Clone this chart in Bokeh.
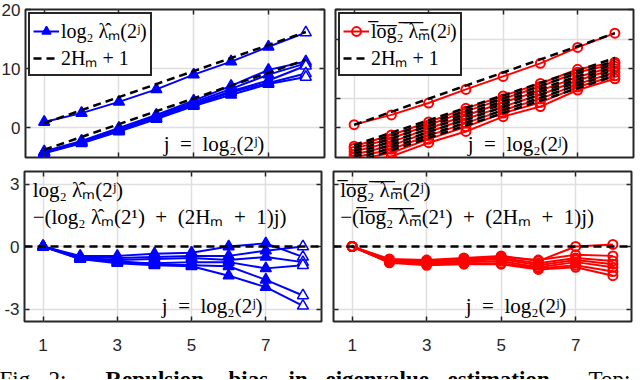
from bokeh.plotting import figure
from bokeh.models import (Range1d, FixedTicker, LinearAxis, Legend, LegendItem, Label, Grid,
                          Span, CustomLabelingPolicy)
from bokeh.layouts import column, row
from bokeh.embed import file_html
from bokeh.resources import INLINE

# ---------------- data ----------------
j = [1, 2, 3, 4, 5, 6, 7, 8]
x_ticks = [1, 3, 5, 7]
top_left_yticks = [0, 10, 20]
top_right_yticks = [0, 5, 10, 15, 20]
bottom_yticks = [-3, 0, 3]

# top-left: log2 hat-lambda_m(2^j), one upper curve and five lower curves
blue_m1 = [1.0, 2.5, 4.4, 6.5, 9.0, 11.2, 13.7, 16.1]
blue_m2 = [-4.0, -2.2, 0.0, 2.2, 4.6, 7.1, 9.8, 11.2]
blue_m3 = [-4.1, -2.3, -0.2, 2.0, 4.3, 6.6, 9.0, 10.9]
blue_m4 = [-4.2, -2.4, -0.3, 1.8, 4.0, 6.2, 8.0, 10.5]
blue_m5 = [-4.2, -2.5, -0.5, 1.6, 3.8, 6.0, 7.6, 9.2]
blue_m6 = [-4.3, -2.6, -0.6, 1.5, 3.7, 5.6, 7.4, 8.6]
blue_curves = [blue_m1, blue_m2, blue_m3, blue_m4, blue_m5, blue_m6]
# reference lines: start value at j=1 and Hurst exponent H_m (slope 2H_m+1)
blue_ref_start = [0.8, -3.7]
blue_ref_H = [0.60, 0.585]

# top-right: mean log2 lambda_m(2^j)
red_m1 = [0.55, 2.2, 4.2, 6.5, 8.7, 10.9, 13.6, 16.0]
red_m2 = [-3.1, -1.2, 1.0, 3.3, 5.4, 7.5, 9.9, 11.1]
red_m3 = [-3.5, -1.8, 0.5, 2.8, 4.9, 7.0, 9.4, 10.8]
red_m4 = [-4.0, -2.4, -0.1, 2.1, 4.3, 6.3, 8.6, 10.4]
red_m5 = [-4.5, -3.0, -0.7, 1.5, 3.6, 5.6, 8.0, 10.0]
red_m6 = [-5.0, -3.6, -1.3, 0.8, 3.0, 4.9, 7.4, 9.4]
red_m7 = [-5.5, -4.2, -1.9, 0.2, 2.5, 4.3, 6.9, 8.8]
red_m8 = [-6.0, -4.8, -2.5, -0.6, 1.9, 3.6, 6.4, 8.3]
red_curves = [red_m1, red_m2, red_m3, red_m4, red_m5, red_m6, red_m7, red_m8]
red_ref_start = [0.5, -2.9, -3.4, -3.9, -4.4, -4.9, -5.4, -5.9]
red_ref_H = [0.607, 0.55, 0.55, 0.55, 0.55, 0.55, 0.55, 0.55]

# bottom-left: residuals of log2 hat-lambda
blue_res1 = [0, -0.45, -0.45, -0.35, -0.3, 0.0, 0.15, -0.5]
blue_res2 = [0, -0.5, -0.55, -0.5, -0.45, -0.45, -0.2, 0.0]
blue_res3 = [0, -0.55, -0.65, -0.6, -0.55, -0.65, -0.5, -0.75]
blue_res4 = [0, -0.6, -0.75, -0.8, -0.75, -0.75, -1.05, -0.9]
blue_res5 = [0, -0.55, -0.7, -0.85, -0.9, -0.95, -1.6, -2.35]
blue_res6 = [0, -0.6, -0.8, -0.9, -0.95, -1.4, -1.95, -2.85]
blue_residuals = [blue_res1, blue_res2, blue_res3, blue_res4, blue_res5, blue_res6]

# bottom-right: residuals of mean log2 lambda
red_res1 = [0, -0.6, -0.65, -0.55, -0.45, -0.7, 0.0, 0.1]
red_res2 = [0, -0.65, -0.7, -0.6, -0.5, -0.65, -0.4, -0.45]
red_res3 = [0, -0.7, -0.75, -0.65, -0.55, -0.8, -0.55, -0.7]
red_res4 = [0, -0.7, -0.8, -0.7, -0.6, -0.9, -0.65, -0.85]
red_res5 = [0, -0.75, -0.85, -0.75, -0.7, -1.0, -0.75, -1.0]
red_res6 = [0, -0.75, -0.85, -0.8, -0.8, -1.05, -0.9, -1.2]
red_res7 = [0, -0.78, -0.9, -0.85, -0.85, -1.1, -1.0, -1.4]
red_residuals = [red_res1, red_res2, red_res3, red_res4, red_res5, red_res6, red_res7]

caption_words = ["Fig.", "2:", "Repulsion", "bias", "in", "eigenvalue", "estimation.", "Top:"]
caption_bold = [False, False, True, True, True, True, True, False]
caption_x = [3, 52, 109, 232, 292, 329, 451, 592]

# ---------------- style ----------------
BLUE = "#0000ff"
RED = "#ff0000"
FRAME = "#262626"
GRIDC = "#dfdfdf"
SANS = "Liberation Sans"
SERIF = "Liberation Serif"
SP = "\u2002"


def ov(s):
    return "".join(ch + "\u0305" for ch in s)


def no_labels():
    return CustomLabelingPolicy(
        code="const n = indices.size; for (let i = 0; i < n; i++) { indices.unset(i) } return indices")


def make_axis(ticks, show, standoff, overrides=None):
    ax = LinearAxis(ticker=FixedTicker(ticks=ticks))
    ax.axis_line_color = None
    ax.major_tick_in = 5
    ax.major_tick_out = 0
    ax.major_tick_line_color = FRAME
    ax.major_tick_line_width = 1.5
    ax.minor_tick_line_color = None
    ax.major_label_text_font = SANS
    ax.major_label_text_color = FRAME
    if show:
        ax.major_label_text_font_size = "17px"
        ax.major_label_standoff = standoff
        if overrides:
            ax.major_label_overrides = overrides
    else:
        ax.major_label_text_font_size = "0px"
        ax.major_label_standoff = 0
        ax.major_label_policy = no_labels()
    return ax


def make_fig(w, h, ml, mr, mt, mb, yr, yticks, show_x, show_y, overrides=None):
    p = figure(width=w, height=h, output_backend="svg", toolbar_location=None,
               x_range=Range1d(0.5, 8.5), y_range=Range1d(*yr),
               x_axis_type=None, y_axis_type=None,
               min_border_left=ml, min_border_right=mr,
               min_border_top=mt, min_border_bottom=mb)
    p.add_layout(make_axis(x_ticks, show_x, 17), "below")
    p.add_layout(make_axis(x_ticks, False, 0), "above")
    p.add_layout(make_axis(yticks, show_y, 5, overrides), "left")
    p.add_layout(make_axis(yticks, False, 0), "right")
    p.add_layout(Grid(dimension=0, ticker=FixedTicker(ticks=x_ticks),
                      grid_line_color=GRIDC, grid_line_width=1.5))
    p.add_layout(Grid(dimension=1, ticker=FixedTicker(ticks=yticks),
                      grid_line_color=GRIDC, grid_line_width=1.5))
    p.outline_line_color = FRAME
    p.outline_line_width = 2
    p.outline_line_alpha = 1
    p.background_fill_color = "white"
    p.border_fill_color = "white"
    return p


def ref_line(start, H):
    return [start + (2 * H + 1) * (k - 1) for k in j]


def draw_blue(p, curves):
    first = None
    for c in curves:
        lr = p.line(j, c, line_color=BLUE, line_width=2)
        sr = p.scatter(j[:-1], c[:-1], marker="triangle", size=11,
                       fill_color=BLUE, line_color=BLUE, line_width=1.5)
        p.scatter(j[-1:], c[-1:], marker="triangle", size=11,
                  fill_color="white", line_color=BLUE, line_width=1.5)
        if first is None:
            first = [lr, sr]
    return first


def draw_red(p, curves):
    first = None
    for c in curves:
        lr = p.line(j, c, line_color=RED, line_width=2)
        sr = p.scatter(j, c, marker="circle", size=9,
                       fill_color=None, line_color=RED, line_width=2)
        if first is None:
            first = [lr, sr]
    return first


def make_legend(items):
    lg = Legend(items=items, location="top_left")
    lg.margin = 3
    lg.padding = 3
    lg.spacing = 0
    lg.glyph_width = 26
    lg.glyph_height = 22
    lg.label_height = 22
    lg.label_standoff = 2
    lg.label_text_font = SERIF
    lg.label_text_font_size = "20px"
    lg.label_text_color = "black"
    lg.border_line_color = FRAME
    lg.border_line_width = 2
    lg.border_line_alpha = 1
    lg.background_fill_color = "white"
    lg.background_fill_alpha = 1
    return lg


def add_text(p, x, y, text):
    p.add_layout(Label(x=x, y=y, text=text, text_font=SERIF, text_font_size="21px",
                       text_color="black", text_baseline="middle"))


J_TEXT = "j" + SP + "=" + SP + "log\u2082(2\u02b2)"

# ---------------- top-left ----------------
tl = make_fig(334, 165, 29, 6, 10, 7, (-5, 20), top_left_yticks, False, True)
blue_first = draw_blue(tl, blue_curves)
dash_tl = None
for s, H in zip(blue_ref_start, blue_ref_H):
    r = tl.line(j, ref_line(s, H), line_color="black", line_width=2.5, line_dash="8 5")
    dash_tl = dash_tl or r
tl.add_layout(make_legend([
    LegendItem(label="log\u2082 \u03bb\u0302\u2098(2\u02b2)", renderers=blue_first),
    LegendItem(label="2H\u2098 + 1", renderers=[dash_tl]),
]))
add_text(tl, 4.2, -2.8, J_TEXT)

# ---------------- top-right ----------------
tr = make_fig(306, 165, 5, 3, 10, 7, (-5, 20), top_right_yticks, False, False)
red_first = draw_red(tr, red_curves)
dash_tr = None
for s, H in zip(red_ref_start, red_ref_H):
    r = tr.line(j, ref_line(s, H), line_color="black", line_width=2.5, line_dash="8 5")
    dash_tr = dash_tr or r
tr.add_layout(make_legend([
    LegendItem(label=ov("log\u2082 \u03bb\u2098") + "(2\u02b2)", renderers=red_first),
    LegendItem(label="2H\u2098 + 1", renderers=[dash_tr]),
]))
add_text(tr, 4.05, -2.8, J_TEXT)

# ---------------- bottom-left ----------------
bl = make_fig(332, 198, 28, 7, 7, 41, (-3.6, 3.6), bottom_yticks, True, True,
              overrides={-3: "-3", 0: "0", 3: "3"})
bl.add_layout(Span(location=0, dimension="width", line_color="black",
                   line_width=2.5, line_dash="8 5"))
draw_blue(bl, blue_residuals)
add_text(bl, 0.72, 2.7, "log\u2082 \u03bb\u0302\u2098(2\u02b2)")
add_text(bl, 0.72, 1.4, "\u2212(log\u2082 \u03bb\u0302\u2098(2\u00b9)" + SP + "+" + SP
         + "(2H\u2098" + SP + "+" + SP + "1)j)")
add_text(bl, 4.2, -2.85, J_TEXT)

# ---------------- bottom-right ----------------
br = make_fig(308, 198, 5, 5, 7, 41, (-3.6, 3.6), bottom_yticks, True, False)
br.add_layout(Span(location=0, dimension="width", line_color="black",
                   line_width=2.5, line_dash="8 5"))
draw_red(br, red_residuals)
add_text(br, 0.68, 2.7, ov("log\u2082 \u03bb\u2098") + "(2\u02b2)")
add_text(br, 0.68, 1.4, "\u2212(" + ov("log\u2082 \u03bb\u2098") + "(2\u00b9)" + SP + "+" + SP
         + "(2H\u2098" + SP + "+" + SP + "1)j)")
add_text(br, 4.05, -2.85, J_TEXT)

# ---------------- caption ----------------
cap = figure(width=640, height=17, output_backend="svg", toolbar_location=None,
             x_range=Range1d(0, 640), y_range=Range1d(0, 17),
             x_axis_type=None, y_axis_type=None,
             min_border_left=0, min_border_right=0, min_border_top=0, min_border_bottom=0)
cap.outline_line_color = None
cap.grid.visible = False
for w, b, x in zip(caption_words, caption_bold, caption_x):
    cap.add_layout(Label(x=x, y=0, text=w, text_font=SERIF, text_font_size="23px",
                         text_font_style="bold" if b else "normal",
                         text_color="black", text_baseline="alphabetic"))

layout = column(row(tl, tr), row(bl, br), cap, margin=(-1, -4, -4, -4))
open("out.html", "w").write(file_html(layout, INLINE))
